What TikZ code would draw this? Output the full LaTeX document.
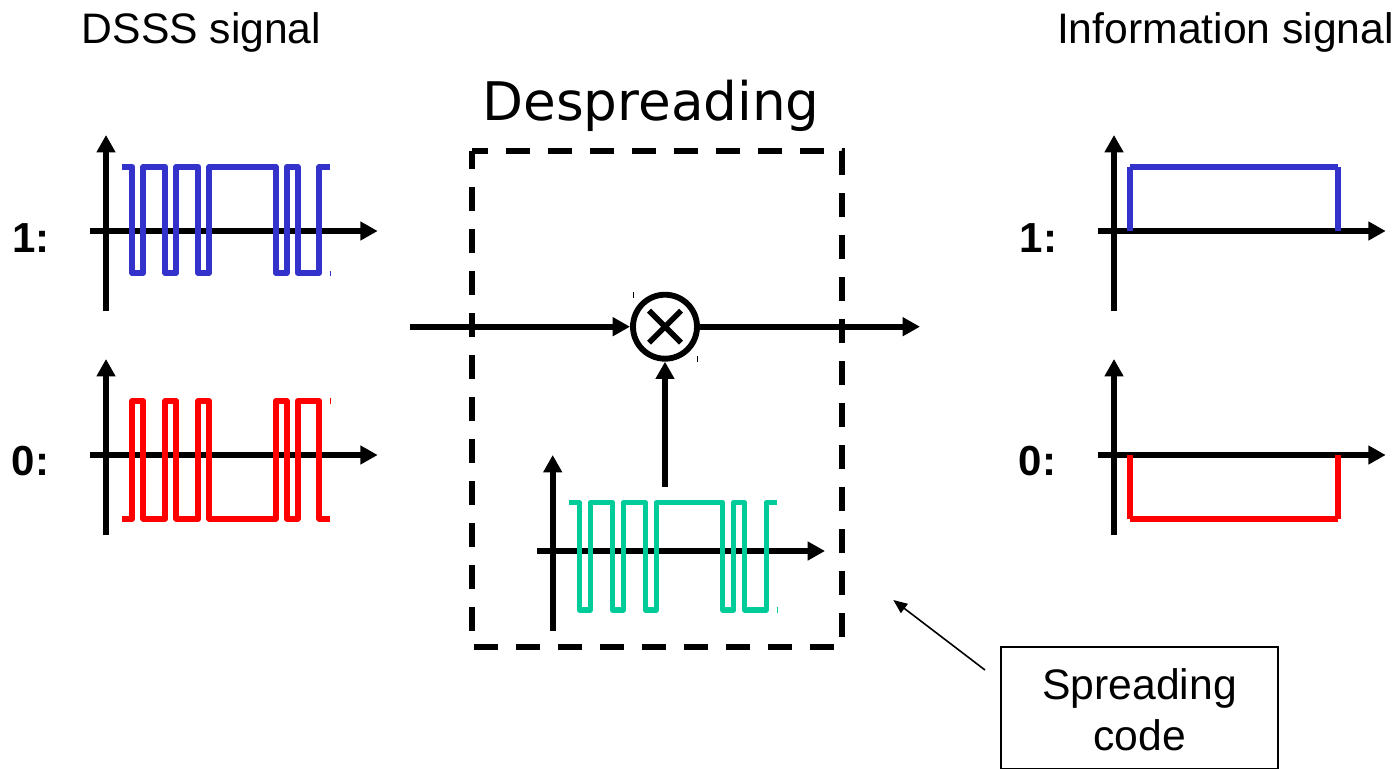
\documentclass[tikz,border=0pt]{standalone}
\usepackage{fontspec}
\setmainfont{Liberation Sans}
\newfontfamily\dejavu{DejaVu Sans}
\usetikzlibrary{arrows.meta,calc}
\definecolor{wblue}{HTML}{3333CC}
\definecolor{wred}{HTML}{FF0000}
\definecolor{wgreen}{HTML}{00CC99}
\tikzset{
  axisline/.style={line width=4.2pt,black,-{Triangle[length=13pt,width=13.5pt]}},
  wave/.style={line width=4.3pt,line join=round},
  wavethin/.style={line width=4pt,line join=round},
  level/.style={line width=4.3pt},
  speck/.style={line width=0.6pt},
  title/.style={anchor=base,inner sep=0pt,font=\fontsize{32}{32}\selectfont},
  bigtitle/.style={anchor=base,inner sep=0pt,font=\dejavu\fontsize{39.9}{39.9}\selectfont},
  digit/.style={anchor=base,inner sep=0pt,font=\bfseries\fontsize{31.5}{31.5}\selectfont},
  codetext/.style={anchor=base,inner sep=0pt,font=\fontsize{32}{32}\selectfont},
}
% #1 options, #2 start x, #3 first level, #4 second level
\newcommand{\chipwave}[4]{%
  \draw[#1] (#2,#3) -- ++(10.3,0)
    -- ({#2+10.3},#4) -- ({#2+21.3},#4) -- ({#2+21.3},#3)
    -- ({#2+43.3},#3) -- ({#2+43.3},#4) -- ({#2+54.3},#4) -- ({#2+54.3},#3)
    -- ({#2+76.3},#3) -- ({#2+76.3},#4) -- ({#2+87.3},#4) -- ({#2+87.3},#3)
    -- ({#2+153.7},#3) -- ({#2+153.7},#4) -- ({#2+164.7},#4) -- ({#2+164.7},#3)
    -- ({#2+175.7},#3) -- ({#2+175.7},#4) -- ({#2+197.3},#4) -- ({#2+197.3},#3)
    -- ({#2+208},#3);}
% #1 axis x, #2 axis y, #3 top, #4 bottom, #5 left, #6 tip
\newcommand{\axes}[6]{%
  \draw[axisline] (#1,#4) -- (#1,#3);
  \draw[axisline] (#5,#2) -- (#6,#2);}
\begin{document}
\begin{tikzpicture}[x=0.75pt,y=-0.75pt]
\useasboundingbox (0,0) rectangle (1395,768);
\clip (0,0) rectangle (1395,768);

% titles
\node[title] (dsss) at (201.5,43) {DSSS signal};
\node[title] (info) at (1225.5,43) {Information signal};
\node[bigtitle] (desp) at (651,120.5) {Despreading};

% digit labels
\node[digit] (l1) at (31,252) {1:};
\node[digit] (l0) at (30.5,475) {0:};
\node[digit] (r1) at (1038.5,252) {1:};
\node[digit] (r0) at (1037.5,475) {0:};

% left panels
\axes{106}{231}{135}{311}{90}{377.7}
\chipwave{wave,wblue}{122}{166.7}{273}
\draw[speck,wblue] (330.3,271) -- (330.3,276);
\axes{106}{455}{359}{535}{90}{377.7}
\chipwave{wave,wred}{122}{518.7}{401}
\draw[speck,wred] (330.3,398) -- (330.3,404);

% right panels
\axes{1114}{231}{135}{311}{1098}{1385.7}
\draw[level,wblue] (1130,231) -- (1130,166.7);
\draw[level,wblue] (1130,166.7) -- (1338,166.7);
\draw[level,wblue] (1338,166.7) -- (1338,231);
\axes{1114}{455}{359}{535}{1098}{1385.7}
\draw[level,wred] (1130,455) -- (1130,518.7);
\draw[level,wred] (1130,518.7) -- (1338,518.7);
\draw[level,wred] (1338,518.7) -- (1338,455);

% despreading box
\node[rectangle,inner sep=0pt,outer sep=0pt,minimum width=277.5pt,minimum height=372pt] (frame) at (657,399) {};
\draw[line width=4.2pt,dash pattern=on 18pt off 13.5pt,dash phase=6pt]
  (frame.north west) -- (frame.north east) -- (frame.south east) -- (frame.south west) -- cycle;

% mixer
\node[circle,draw=black,fill=white,line width=4.4pt,minimum size=48pt,inner sep=0pt] (mix) at (665,326.7) {};
\draw[line width=4.2pt] ($(mix.center)+(-16,-16)$) -- ($(mix.center)+(16,16)$);
\draw[line width=4.2pt] ($(mix.center)+(-16,16)$) -- ($(mix.center)+(16,-16)$);
\coordinate (in) at (410,326.7);
\coordinate (out) at (920,326.7);
\coordinate (codeout) at (665,487);
\draw[axisline] (in) -- (mix);
\draw[axisline] (mix) -- (out);
\draw[axisline] (codeout) -- (mix);
\draw[speck] (633.3,292) -- (633.3,298);
\draw[speck] (697.3,356) -- (697.3,362);

% code waveform
\axes{552.7}{551}{455}{631}{537}{825}
\chipwave{wavethin,wgreen}{569}{502.7}{610}
\draw[speck,wgreen] (777.3,607) -- (777.3,612.6);

% spreading code box
\node[draw=black,line width=1.6pt,rectangle,inner sep=0pt,minimum width=207.75pt,minimum height=91.5pt] (code) at (1139.5,708) {};
\node[codetext] (spread) at (1139.5,699) {Spreading};
\node[codetext] (codew) at (1139.5,750) {code};
\coordinate (tail) at (985,670);
\coordinate (tip) at (893.3,600);
\draw[line width=1.2pt,-{Triangle[length=10.5pt,width=8.5pt]}] (tail) -- (tip);
\end{tikzpicture}
\end{document}
